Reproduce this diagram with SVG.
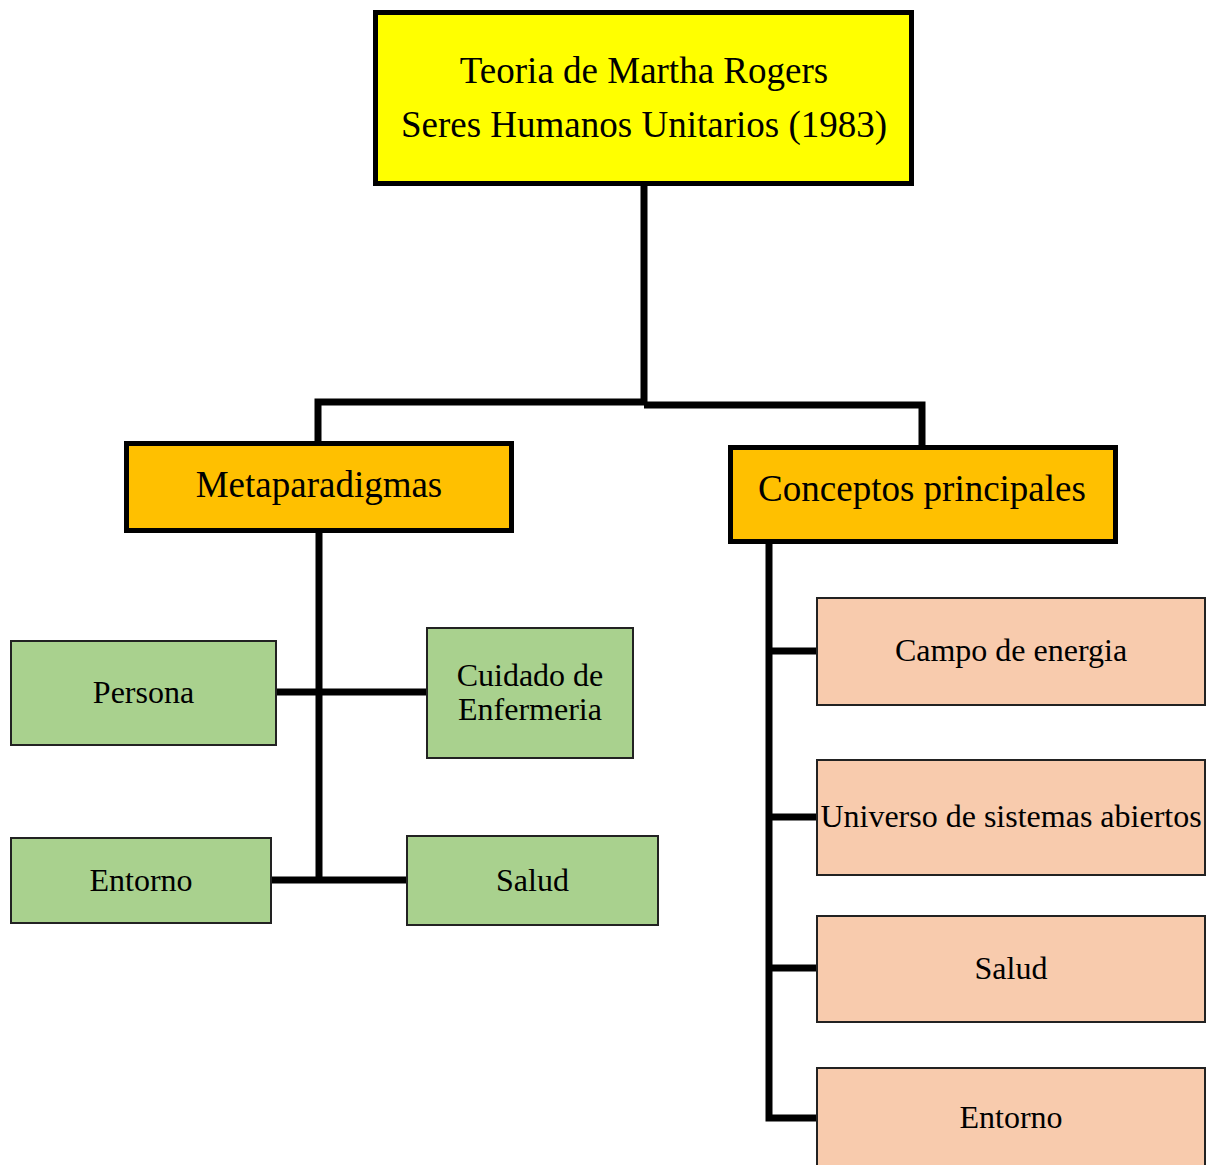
<svg xmlns="http://www.w3.org/2000/svg" width="1210" height="1165" viewBox="0 0 1210 1165">
<style>
text{font-family:"Liberation Serif","Times New Roman",serif;fill:#000;text-anchor:middle}
.big{font-size:37px}
.small{font-size:32px}
.main{stroke:#000;stroke-width:5}
.green{fill:#A9D18E;stroke:#222;stroke-width:2}
.peach{fill:#F8CBAD;stroke:#222;stroke-width:2}
.conn{fill:none;stroke:#000;stroke-width:7}
</style>
<rect width="1210" height="1165" fill="#fff"/>
<g id="connectors">
<path class="conn" d="M644 185V402M644 402H318V441M644 405H922V445"/>
<path class="conn" d="M319 532V881M276 692H427M271 880H407"/>
<path class="conn" d="M769 543V1118H817M769 651H817M769 817H817M769 968H817"/>
</g>
<g id="root">
<rect class="main" x="375.5" y="12.5" width="536" height="171" fill="#FFFF00"/>
<text class="big" x="644" y="83">Teoria de Martha Rogers</text>
<text class="big" x="644" y="137">Seres Humanos Unitarios (1983)</text>
</g>
<g id="metaparadigmas">
<rect class="main" x="126.5" y="443.5" width="385" height="87" fill="#FFC000"/>
<text class="big" x="319" y="497">Metaparadigmas</text>
</g>
<g id="conceptos">
<rect class="main" x="730.5" y="447.5" width="385" height="94" fill="#FFC000"/>
<text class="big" x="922" y="501">Conceptos principales</text>
</g>
<g id="persona">
<rect class="green" x="11" y="641" width="265" height="104"/>
<text class="small" x="143.5" y="703">Persona</text>
</g>
<g id="cuidado">
<rect class="green" x="427" y="628" width="206" height="130"/>
<text class="small" x="530" y="686">Cuidado de</text>
<text class="small" x="530" y="720">Enfermeria</text>
</g>
<g id="entorno-m">
<rect class="green" x="11" y="838" width="260" height="85"/>
<text class="small" x="141" y="891">Entorno</text>
</g>
<g id="salud-m">
<rect class="green" x="407" y="836" width="251" height="89"/>
<text class="small" x="532.5" y="891">Salud</text>
</g>
<g id="campo">
<rect class="peach" x="817" y="598" width="388" height="107"/>
<text class="small" x="1011" y="661">Campo de energia</text>
</g>
<g id="universo">
<rect class="peach" x="817" y="760" width="388" height="115"/>
<text class="small" x="1011" y="827">Universo de sistemas abiertos</text>
</g>
<g id="salud-c">
<rect class="peach" x="817" y="916" width="388" height="106"/>
<text class="small" x="1011" y="979">Salud</text>
</g>
<g id="entorno-c">
<rect class="peach" x="817" y="1068" width="388" height="110"/>
<text class="small" x="1011" y="1128">Entorno</text>
</g>
</svg>
